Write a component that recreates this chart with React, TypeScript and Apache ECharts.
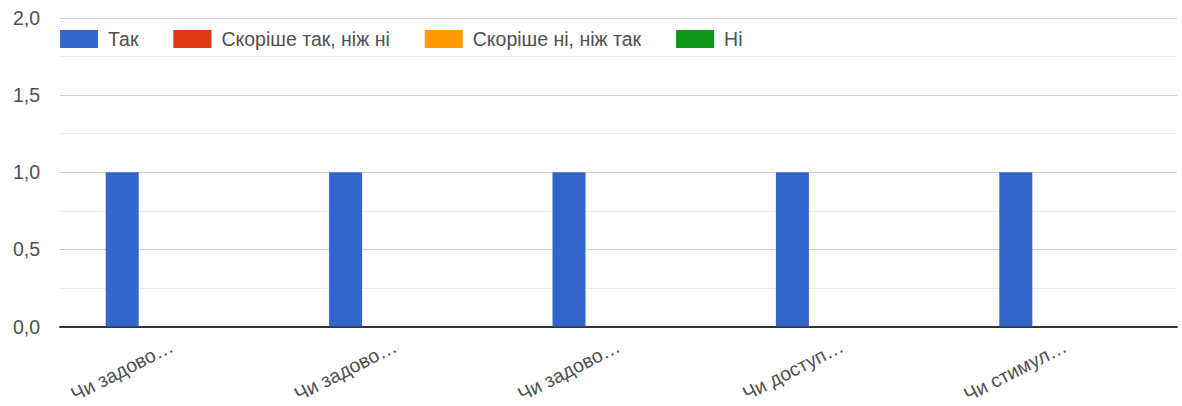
import React, { useEffect, useRef } from "react";
import * as echarts from "echarts";

const categories = ["Чи задово…", "Чи задово…", "Чи задово…", "Чи доступ…", "Чи стимул…"];
const seriesNames = ["Так", "Скоріше так, ніж ні", "Скоріше ні, ніж так", "Ні"];
const seriesColors = ["#3366cc", "#dc3912", "#ff9900", "#109618"];
const valuesTak = [1, 1, 1, 1, 1];
const valuesRatherYes = [0, 0, 0, 0, 0];
const valuesRatherNo = [0, 0, 0, 0, 0];
const valuesNo = [0, 0, 0, 0, 0];
const seriesValues = [valuesTak, valuesRatherYes, valuesRatherNo, valuesNo];

const FONT = "'Liberation Sans', Arial, sans-serif";
const FS = 19.5;

export default function App() {
  const ref = useRef<HTMLDivElement>(null);
  useEffect(() => {
    if (!ref.current) return;
    const chart = echarts.init(ref.current, undefined, { renderer: "svg" });
    chart.setOption({
      animation: false,
      textStyle: { fontFamily: FONT },
      legend: {
        left: 55,
        top: 24,
        itemWidth: 38,
        itemHeight: 18,
        itemGap: 35,
        icon: "rect",
        textStyle: { fontSize: FS, color: "#505050", fontFamily: FONT, padding: [0, 0, 0, 5] },
        data: seriesNames,
      },
      grid: { left: 60, right: 5, top: 18, bottom: 78, containLabel: false },
      xAxis: {
        type: "category",
        data: categories,
        axisTick: { show: false },
        axisLine: { lineStyle: { color: "#333", width: 2 } },
        axisLabel: { rotate: 27, fontSize: FS, color: "#505050", fontFamily: FONT, margin: 18 },
      },
      yAxis: {
        type: "value",
        min: 0,
        max: 2,
        interval: 0.5,
        axisLine: { show: false },
        axisTick: { show: false },
        axisLabel: {
          fontSize: FS,
          color: "#505050",
          fontFamily: FONT,
          margin: 20,
          formatter: (v: number) => v.toFixed(1).replace(".", ","),
        },
        splitLine: { lineStyle: { color: "#cccccc", width: 1 } },
        minorTick: { show: false, splitNumber: 2 },
        minorSplitLine: { show: true, lineStyle: { color: "#ebebeb", width: 1 } },
      },
      series: seriesNames.map((name, i) => ({
        name,
        type: "bar",
        data: seriesValues[i],
        barWidth: 33,
        barGap: "0%",
        itemStyle: { color: seriesColors[i] },
      })),
    });
    return () => chart.dispose();
  }, []);
  return (
    <div
      ref={ref}
      style={{ position: "fixed", left: 0, top: 0, width: 1182, height: 406, background: "#fff" }}
    />
  );
}
